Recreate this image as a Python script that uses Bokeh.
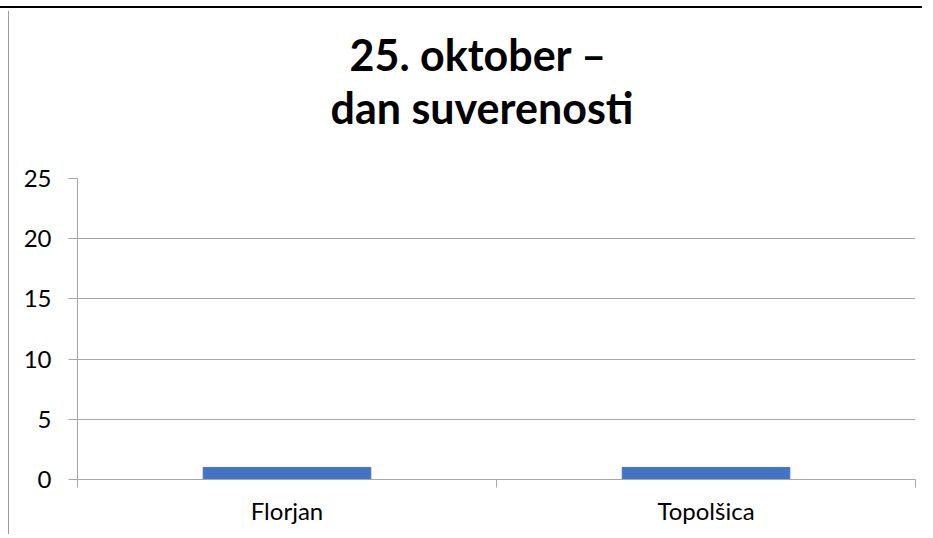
from bokeh.plotting import figure
from bokeh.models import FixedTicker, Title, Range1d
from bokeh.embed import file_html
from bokeh.resources import INLINE

categories = ["Florjan", "Topolšica"]
values = [1, 1]
y_ticks = [0, 5, 10, 15, 20, 25]
title_lines = ["25. oktober –", "dan suverenosti"]

x_pos = [i + 0.5 for i in range(len(categories))]

p = figure(width=922, height=528, output_backend="svg", toolbar_location=None,
           x_range=Range1d(0, len(categories)), y_range=Range1d(0, 25),
           min_border_left=68, min_border_right=16, min_border_top=170, min_border_bottom=57)
p.outline_line_color = None
p.background_fill_color = "white"
p.border_fill_color = "white"

p.vbar(x=x_pos, top=values, width=0.4, color="#4472C4")

FONT = "Lato"
GRID = "#a6a6a6"

# y axis
p.yaxis.ticker = FixedTicker(ticks=y_ticks)
p.yaxis.axis_line_color = GRID
p.yaxis.major_tick_line_color = GRID
p.yaxis.major_tick_out = 9
p.yaxis.major_tick_in = 0
p.yaxis.minor_tick_line_color = None
p.yaxis.major_label_standoff = 17
p.yaxis.major_label_text_font = FONT
p.yaxis.major_label_text_font_size = "24px"
p.yaxis.major_label_text_color = "#000000"

# x axis: labels at centres, ticks at category boundaries
p.xaxis.ticker = FixedTicker(ticks=x_pos, minor_ticks=list(range(len(categories) + 1)))
p.xaxis.major_label_overrides = {x: c for x, c in zip(x_pos, categories)}
p.xaxis.major_tick_line_color = None
p.xaxis.major_tick_out = 0
p.xaxis.major_tick_in = 0
p.xaxis.minor_tick_line_color = GRID
p.xaxis.minor_tick_out = 8
p.xaxis.minor_tick_in = 0
p.xaxis.axis_line_color = GRID
p.xaxis.major_label_standoff = 8
p.xaxis.major_label_text_font = FONT
p.xaxis.major_label_text_font_size = "24px"
p.xaxis.major_label_text_color = "#000000"

p.xgrid.grid_line_color = None
p.ygrid.ticker = FixedTicker(ticks=y_ticks)
p.ygrid.grid_line_color = GRID

# spacer between plot frame and the title block
p.add_layout(Title(text=" ", text_font_size="1px", standoff=43), "above")

# two-line title: the line added first sits closest to the plot
title_offsets = [272, 253]
for txt, off in reversed(list(zip(title_lines, title_offsets))):
    p.add_layout(Title(text=txt, align="left", offset=off, standoff=0,
                       text_font=FONT, text_font_style="bold", text_font_size="43px",
                       text_color="#000000"), "above")

p.styles = {"margin-top": "6px", "padding-left": "9px", "padding-right": "2px",
            "border-top": "2px solid #000000",
            "background": "linear-gradient(#9a9a9a, #9a9a9a) 8px 3px / 1px 100% no-repeat"}

open("out.html", "w").write(file_html(p, INLINE))
